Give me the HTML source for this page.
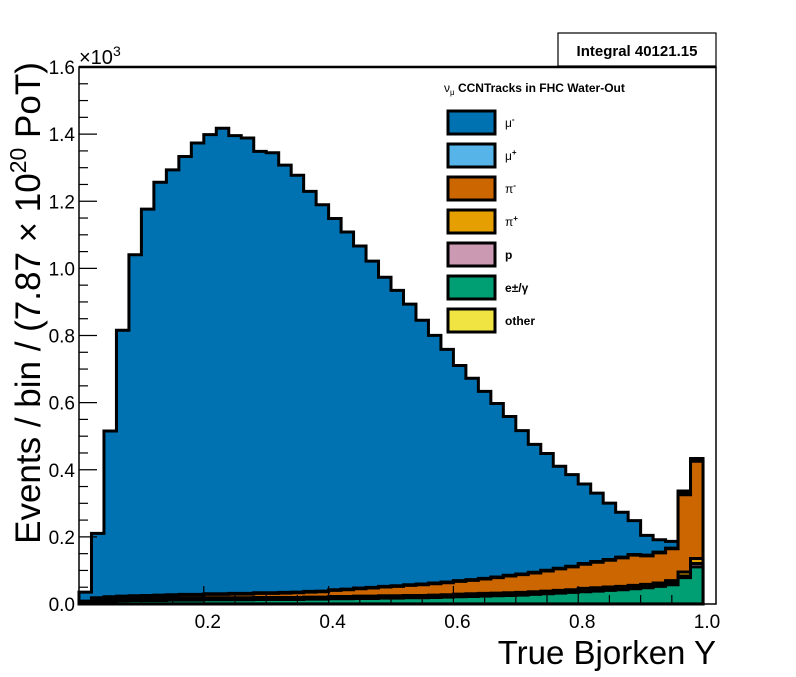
<!DOCTYPE html>
<html><head><meta charset="utf-8"><style>
body{margin:0;background:#fff;}
svg text{font-family:"Liberation Sans",Arial,sans-serif;}
</style></head><body>
<svg id="chart" width="796" height="672" viewBox="0 0 796 672">
<rect x="0" y="0" width="796" height="672" fill="#fff"/>
<g id="bars"></g>
<rect x="79" y="67" width="637" height="537" fill="none" stroke="#000" stroke-width="1.5"/>
<line x1="79" x2="716" y1="67" y2="67" stroke="#000" stroke-width="2.5"/>
<g id="axes"></g>
<text x="79" y="64" font-size="20">×10<tspan dy="-8" font-size="14">3</tspan></text>
<text transform="translate(40,303) rotate(-90)" text-anchor="middle" font-size="35">Events / bin / (7.87 × 10<tspan dy="-14" font-size="23">20</tspan><tspan dy="14"> PoT)</tspan></text>
<text x="716" y="664" text-anchor="end" font-size="33">True Bjorken Y</text>
<g>
<rect x="558" y="33" width="158" height="33" fill="#fff" stroke="#000" stroke-width="1.2"/>
<text x="637" y="56" text-anchor="middle" font-size="15" font-weight="bold">Integral 40121.15</text>
</g>
<g id="legend">
<text x="444" y="92" font-size="12" font-weight="bold"><tspan font-weight="normal">ν</tspan><tspan dy="3" font-size="8" font-weight="normal">μ</tspan><tspan dy="-3"> CCNTracks in FHC Water-Out</tspan></text>
</g>
</svg>
<script>
const binEdgesLow = 0, binWidth = 0.02;
const categories = ["mu-","mu+","pi-","pi+","p","e/gamma","other"];
const muMinus = [0.027,0.192,0.494,0.792,1.016,1.151,1.23,1.266,1.305,1.345,1.368,1.387,1.364,1.357,1.315,1.311,1.273,1.242,1.192,1.151,1.106,1.064,1.019,0.972,0.921,0.88,0.836,0.786,0.738,0.693,0.641,0.60,0.557,0.517,0.473,0.427,0.381,0.348,0.304,0.273,0.237,0.204,0.168,0.134,0.101,0.059,0.037,0.02,0.005,0.003];
const muPlus = [0.001,0.002,0.002,0.002,0.002,0.002,0.002,0.002,0.002,0.002,0.002,0.002,0.002,0.002,0.002,0.002,0.002,0.002,0.002,0.002,0.002,0.002,0.002,0.002,0.002,0.002,0.002,0.002,0.002,0.002,0.002,0.002,0.002,0.002,0.002,0.002,0.002,0.002,0.002,0.002,0.002,0.002,0.002,0.002,0.002,0.002,0.002,0.002,0.006,0.005];
const piMinus = [0.002,0.004,0.005,0.006,0.006,0.007,0.008,0.008,0.009,0.009,0.01,0.01,0.011,0.011,0.012,0.012,0.013,0.014,0.015,0.016,0.018,0.02,0.022,0.024,0.026,0.028,0.03,0.032,0.034,0.036,0.038,0.04,0.043,0.046,0.05,0.053,0.056,0.06,0.064,0.068,0.072,0.076,0.08,0.085,0.09,0.085,0.09,0.095,0.23,0.29];
const piPlus = [0.002,0.004,0.004,0.004,0.004,0.004,0.004,0.004,0.004,0.004,0.004,0.004,0.004,0.004,0.004,0.004,0.004,0.004,0.004,0.004,0.005,0.005,0.005,0.005,0.005,0.005,0.005,0.005,0.005,0.005,0.006,0.006,0.006,0.006,0.006,0.006,0.006,0.006,0.006,0.006,0.008,0.008,0.008,0.008,0.008,0.008,0.008,0.008,0.012,0.015];
const proton = [0.001,0.002,0.002,0.002,0.002,0.002,0.002,0.002,0.002,0.002,0.002,0.002,0.002,0.002,0.002,0.002,0.002,0.002,0.002,0.002,0.002,0.002,0.002,0.002,0.002,0.002,0.002,0.002,0.002,0.002,0.002,0.002,0.002,0.002,0.002,0.002,0.002,0.002,0.002,0.002,0.002,0.002,0.002,0.002,0.002,0.002,0.002,0.004,0.005,0.01];
const eGamma = [0.002,0.006,0.008,0.009,0.01,0.01,0.01,0.011,0.011,0.011,0.012,0.012,0.012,0.012,0.013,0.013,0.013,0.013,0.014,0.014,0.015,0.015,0.016,0.016,0.017,0.017,0.018,0.018,0.019,0.02,0.021,0.022,0.023,0.024,0.025,0.026,0.028,0.03,0.032,0.034,0.036,0.038,0.04,0.042,0.045,0.048,0.052,0.057,0.078,0.11];
const other = [0.0005,0.0005,0.0005,0.0005,0.0005,0.0005,0.0005,0.0005,0.0005,0.0005,0.0005,0.0005,0.0005,0.0005,0.0005,0.0005,0.0005,0.0005,0.0005,0.0005,0.0005,0.0005,0.0005,0.0005,0.0005,0.0005,0.0005,0.0005,0.0005,0.0005,0.0005,0.0005,0.0005,0.0005,0.0005,0.0005,0.0005,0.0005,0.0005,0.0005,0.0005,0.0005,0.0005,0.0005,0.0005,0.0005,0.0005,0.0005,0.0005,0.0005];
const xTicks = [0.2,0.4,0.6,0.8,1.0];
const xTickLabels = ["0.2","0.4","0.6","0.8","1.0"];
const yTicks = [0,0.2,0.4,0.6,0.8,1.0,1.2,1.4,1.6];
const yTickLabels = ["0.0","0.2","0.4","0.6","0.8","1.0","1.2","1.4","1.6"];

const NS="http://www.w3.org/2000/svg";
const X0=79, X1=716, Y0=604, Y1=67;
const xMin=0, xMax=1.0208, yMin=0, yMax=1.6;
function sx(v){return X0+(v-xMin)/(xMax-xMin)*(X1-X0);}
function sy(v){return Y0-(v-yMin)/(yMax-yMin)*(Y0-Y1);}
function mk(tag,attrs,parent){const e=document.createElementNS(NS,tag);for(const k in attrs)e.setAttribute(k,attrs[k]);parent.appendChild(e);return e;}

const layers=[
 {name:"other",data:other,color:"#f0e442"},
 {name:"e-gamma",data:eGamma,color:"#009e73"},
 {name:"proton",data:proton,color:"#cc99b3"},
 {name:"pi-plus",data:piPlus,color:"#e69f00"},
 {name:"pi-minus",data:piMinus,color:"#cc6600"},
 {name:"mu-plus",data:muPlus,color:"#56b4e9"},
 {name:"mu-minus",data:muMinus,color:"#0072b2"}
];
const n=muMinus.length;
const cum=[];let run=new Array(n).fill(0);
layers.forEach(l=>{run=run.map((v,i)=>v+l.data[i]);cum.push(run.slice());});
const gb=document.getElementById('bars');
for(let k=layers.length-1;k>=0;k--){
  const c=cum[k];
  let d="M"+sx(0)+","+sy(0);
  for(let i=0;i<n;i++){d+=" L"+sx(binEdgesLow+i*binWidth)+","+sy(c[i])+" L"+sx(binEdgesLow+(i+1)*binWidth)+","+sy(c[i]);}
  d+=" L"+sx(binEdgesLow+n*binWidth)+","+sy(0)+" Z";
  const p=mk('path',{d:d,fill:layers[k].color,stroke:"#000","stroke-width":3,"stroke-linejoin":"miter"},gb);
  
  
}
const ga=document.getElementById('axes');
for(let i=0;i<yTicks.length;i++){
  const y=sy(yTicks[i]);
  const t=mk('line',{x1:X0,x2:X0+18,y1:y,y2:y,stroke:"#000","stroke-width":1.2},ga);
  
  
  const lb=mk('text',{x:X0-4,y:y+7,"text-anchor":"end","font-size":19},ga);
  lb.textContent=yTickLabels[i];
  
  
  if(i<yTicks.length-1){for(let m=1;m<4;m++){const ym=sy(yTicks[i]+m*0.05);
    const mt=mk('line',{x1:X0,x2:X0+9,y1:ym,y2:ym,stroke:"#000","stroke-width":1.2},ga);
    
    }}
}
for(let v=0.05;v<xMax;v+=0.05){
  const isMajor=Math.abs(v/0.2-Math.round(v/0.2))<1e-6;
  const x=sx(v);
  const t=mk('line',{x1:x,x2:x,y1:Y0,y2:Y0-(isMajor?18:9),stroke:"#000","stroke-width":1.2},ga);
  
  
}
for(let i=0;i<xTicks.length;i++){
  const lb=mk('text',{x:sx(xTicks[i])+4,y:Y0+24,"text-anchor":"middle","font-size":19},ga);
  lb.textContent=xTickLabels[i];
  
  
}
const legLabels=[["μ","-"],["μ","+"],["π","-"],["π","+"],["p",""],["e","±/γ"],["other",""]];
const legColors=["#0072b2","#56b4e9","#cc6600","#e69f00","#cc99b3","#009e73","#f0e442"];
const gl=document.getElementById('legend');
for(let i=0;i<legLabels.length;i++){
  const yc=122+i*33;
  const r=mk('rect',{x:448,y:yc-11,width:47,height:23,fill:legColors[i],stroke:"#000","stroke-width":3},gl);
  
  
  const t=mk('text',{x:505,y:yc+5,"font-size":12,"font-weight":"bold"},gl);
  
  
  const a=document.createElementNS(NS,'tspan');a.textContent=legLabels[i][0];
  if(i<4)a.setAttribute('font-weight','normal');
  t.appendChild(a);
  if(legLabels[i][1]){const b=document.createElementNS(NS,'tspan');
    if(i<4){b.setAttribute('dy','-5');b.setAttribute('font-size','8');}
    b.textContent=legLabels[i][1];t.appendChild(b);}
}
</script>
</body></html>
